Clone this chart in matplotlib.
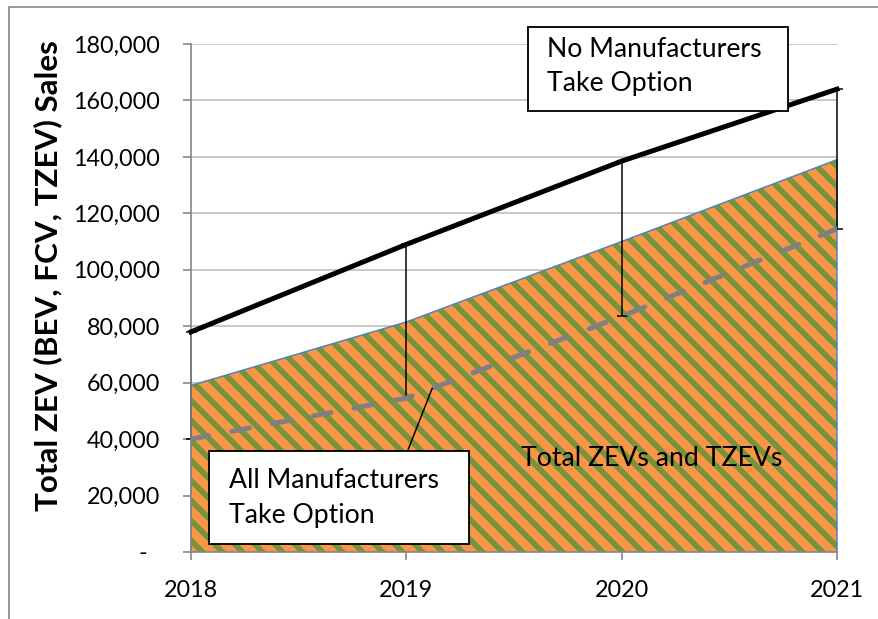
import matplotlib
matplotlib.use('Agg')
import matplotlib.pyplot as plt
from matplotlib.patches import Rectangle
from matplotlib.colors import to_rgb
import numpy as np

# ---- data ----
years = [2018, 2019, 2020, 2021]
xtick_labels = ['2018', '2019', '2020', '2021']
no_option = [78000, 109000, 138500, 164000]     # No Manufacturers Take Option
all_option = [40000, 54500, 83500, 114500]      # All Manufacturers Take Option
total_zev = [59000, 81500, 110000, 139000]      # Total ZEVs and TZEVs
ytick_values = list(range(0, 180001, 20000))
ytick_labels = ['-  '] + [f'{v:,}' for v in ytick_values[1:]]

DPI = 120
W, H = 878, 619
plt.rcParams['font.family'] = ['Lato', 'DejaVu Sans']

fig = plt.figure(figsize=(W / DPI, H / DPI), dpi=DPI)


def fx(px):
    return px / W


def fy(py):
    return 1 - py / H


ax = fig.add_axes([fx(191), fy(552), fx(837) - fx(191), fy(44) - fy(552)])
ax.set_xlim(years[0], years[-1])
ax.set_ylim(0, 180000)

ax.set_axisbelow(True)
ax.yaxis.grid(True, color='#BFBFBF', lw=1.0)
ax.xaxis.grid(False)

# area with orange / green diagonal stripe pattern
area = ax.fill_between(years, 0, total_zev, facecolor='#F79646', linewidth=0, zorder=1)
fig.canvas.draw()
bb = ax.get_window_extent()
pw, ph = int(round(bb.width)), int(round(bb.height))
rr, cc = np.mgrid[0:ph, 0:pw]
stripe = ((cc - rr) % 20) < 8
tex = np.empty((ph, pw, 3))
tex[:] = to_rgb('#F79646')
tex[stripe] = to_rgb('#77933C')
im = ax.imshow(tex, extent=(years[0], years[-1], 0, 180000), origin='upper',
               aspect='auto', interpolation='nearest', zorder=1.2)
im.set_clip_path(area.get_paths()[0], ax.transData)
ax.set_xlim(years[0], years[-1])
ax.set_ylim(0, 180000)

ax.plot([years[0]] + years + [years[-1]], [0] + total_zev + [0],
        color='#4F81BD', lw=0.9, zorder=1.5, clip_on=False)

# error bars (difference between scenarios)
diff = np.subtract(no_option, all_option)
eb = ax.errorbar(years, no_option, yerr=[diff, np.zeros(len(years))], fmt='none',
                 ecolor='black', elinewidth=0.9, capsize=3.3, capthick=0.9, zorder=2)
for art in eb.lines[1]:
    art.set_clip_on(False)
for art in eb.lines[2]:
    art.set_clip_on(False)

# dashed line
ax.plot(years, all_option, color='#808080', lw=3.0, linestyle=(0, (3.6, 4.7)),
        dash_capstyle='round', zorder=3)
# black line
ax.plot(years, no_option, color='black', lw=3, zorder=4, clip_on=False)

# axes styling
for s in ['top', 'right']:
    ax.spines[s].set_visible(False)
for s in ['left', 'bottom']:
    ax.spines[s].set_color('#868686')
    ax.spines[s].set_linewidth(1.0)
    ax.spines[s].set_zorder(2.5)

ax.set_yticks(ytick_values, ytick_labels)
ax.set_xticks(years, xtick_labels)
ax.tick_params(axis='y', length=5, width=1.0, color='#868686', pad=13.5, labelsize=14)
ax.tick_params(axis='x', length=5, width=1.0, color='#868686', pad=12, labelsize=14)

# y label
fig.text(fx(48), fy(276), 'Total ZEV (BEV, FCV, TZEV) Sales', rotation=90,
         weight='bold', size=18.8, ha='center', va='center')

# outer chart border
fig.add_artist(Rectangle((fx(9), -0.5), 1.5, fy(7) + 0.5, transform=fig.transFigure,
                         fill=False, ec='#868686', lw=1.0))

# box: No Manufacturers Take Option
fig.add_artist(Rectangle((fx(528), fy(111)), fx(788) - fx(528), fy(27) - fy(111),
                         transform=fig.transFigure, fc='white', ec='black', lw=1.1, zorder=5))
fig.text(fx(547), fy(57), 'No Manufacturers', size=16, va='baseline', zorder=6)
fig.text(fx(547), fy(91), 'Take Option', size=16, va='baseline', zorder=6)

# leader line for lower box
ax.annotate('', xy=(2019.12, 58000), xycoords='data',
            xytext=(408, H - 450), textcoords='figure pixels',
            arrowprops=dict(arrowstyle='-', color='black', lw=0.9, shrinkA=0, shrinkB=0),
            zorder=4.5)

# box: All Manufacturers Take Option
fig.add_artist(Rectangle((fx(209), fy(544)), fx(469) - fx(209), fy(451) - fy(544),
                         transform=fig.transFigure, fc='white', ec='black', lw=1.1, zorder=5))
fig.text(fx(229), fy(488), 'All Manufacturers', size=16, va='baseline', zorder=6)
fig.text(fx(229), fy(523), 'Take Option', size=16, va='baseline', zorder=6)

# area label
fig.text(fx(521), fy(466), 'Total ZEVs and TZEVs', size=16, va='baseline', zorder=6)

fig.savefig('out.png', dpi=DPI)
